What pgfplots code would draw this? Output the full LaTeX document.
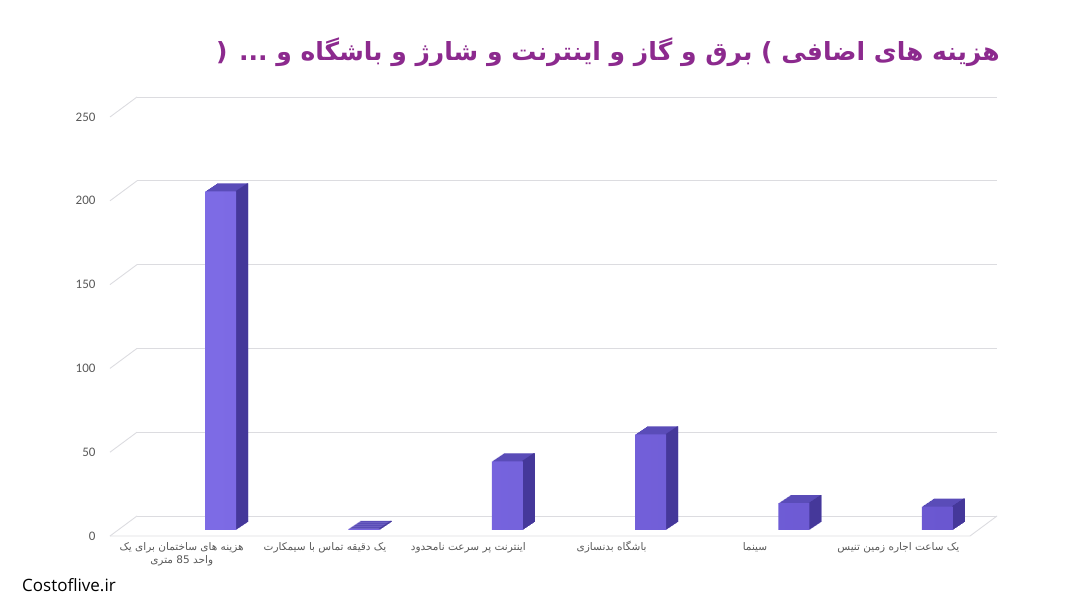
\documentclass[border=0pt]{standalone}
\usepackage{pgfplots}
\pgfplotsset{compat=1.18}
\usepackage{pgfplotstable}
\usepackage{fontspec}
\setmainfont{Carlito}
\newfontfamily\arabicfont[Script=Arabic]{DejaVu Sans}
\newfontfamily\sitefont{Open Sans}
\TeXXeTstate=1
\definecolor{gridgray}{HTML}{DCDCE0}
\definecolor{labelgray}{HTML}{595959}
\definecolor{titlepurple}{HTML}{8C2A8E}
\definecolor{topcol}{HTML}{5A4CB8}
\definecolor{sidecol}{HTML}{45389A}
\definecolor{frontL}{HTML}{7D6BE5}
\definecolor{frontR}{HTML}{6A57D0}
\pgfplotstableread{
x y
0 202
1 0.6
2 41
3 57
4 16
5 14
}\costs
\begin{document}
\begin{tikzpicture}
\useasboundingbox (0,0) rectangle (1080pt,607pt);
\begin{axis}[
  at={(137pt,91pt)}, anchor=south west,
  scale only axis, width=860pt, height=419pt,
  xmin=-0.5, xmax=5.5, ymin=0, ymax=250,
  clip=false,
  axis line style={draw=none}, major tick length=0pt,
  ytick={0,50,100,150,200,250},
  ymajorgrids, grid style={color=gridgray, line width=0.9pt},
  /pgf/number format/assume math mode=true,
  yticklabel style={xshift=-38pt, yshift=-20pt, font=\fontsize{13}{13}\selectfont, text=labelgray},
  xtick={0,1,2,3,4,5},
  xticklabels={
    {\strut\beginR هزینه های ساختمان برای یک\endR\\\beginR واحد 85 متری\endR},
    {\strut\beginR یک دقیقه تماس با سیمکارت\endR},
    {\strut\beginR اینترنت پر سرعت نامحدود\endR},
    {\strut\beginR باشگاه بدنسازی\endR},
    {\strut\beginR سینما\endR},
    {\strut\beginR یک ساعت اجاره زمین تنیس\endR}},
  xticklabel style={xshift=-27pt, yshift=-22pt, align=center, font=\arabicfont\fontsize{10.5}{13}\selectfont, text=labelgray},
]
% left wall diagonals and floor
\pgfplotsinvokeforeach{0,50,100,150,200,250}{
  \draw[gridgray, line width=0.9pt] (axis cs:-0.5,#1) -- ++(-27pt,-20pt);
}
\draw[gridgray, line width=0.9pt] (axis cs:-0.5,0) ++(-27pt,-20pt) -- ++(860pt,0pt) -- (axis cs:5.5,0);
% depth (top face colour)
\pgfplotsinvokeforeach{1,2,3,4,5,6,7,8,9,10,11,12}{
  \addplot[ybar, bar width=31pt, bar shift=12pt, xshift={#1*1pt}, yshift={-14pt+#1*0.667pt}, fill=topcol, draw=none] table[x=x,y=y]{\costs};
}
% side face
\pgfplotsinvokeforeach{1,2,3,4,5,6,7,8,9,10,11,12}{
  \addplot[ybar, bar width=1.6pt, bar shift=26.7pt, xshift={#1*1pt}, yshift={-14pt+#1*0.667pt}, fill=sidecol, draw=none] table[x=x,y=y]{\costs};
}
% front face
\addplot[ybar, bar width=31pt, bar shift=12pt, yshift=-14pt, left color=frontL, right color=frontR, draw=none] table[x=x,y=y]{\costs};
\end{axis}
\node[text=titlepurple, font=\arabicfont\bfseries\fontsize{25}{30}\selectfont] at (608pt,555pt) {\beginR هزینه های اضافی ) برق و گاز و اینترنت و شارژ و باشگاه و ... (\endR};
\node[anchor=west, font=\sitefont\fontsize{17}{19}\selectfont, inner sep=0pt] at (22pt,22pt) {Costoflive.ir};
\end{tikzpicture}
\end{document}
